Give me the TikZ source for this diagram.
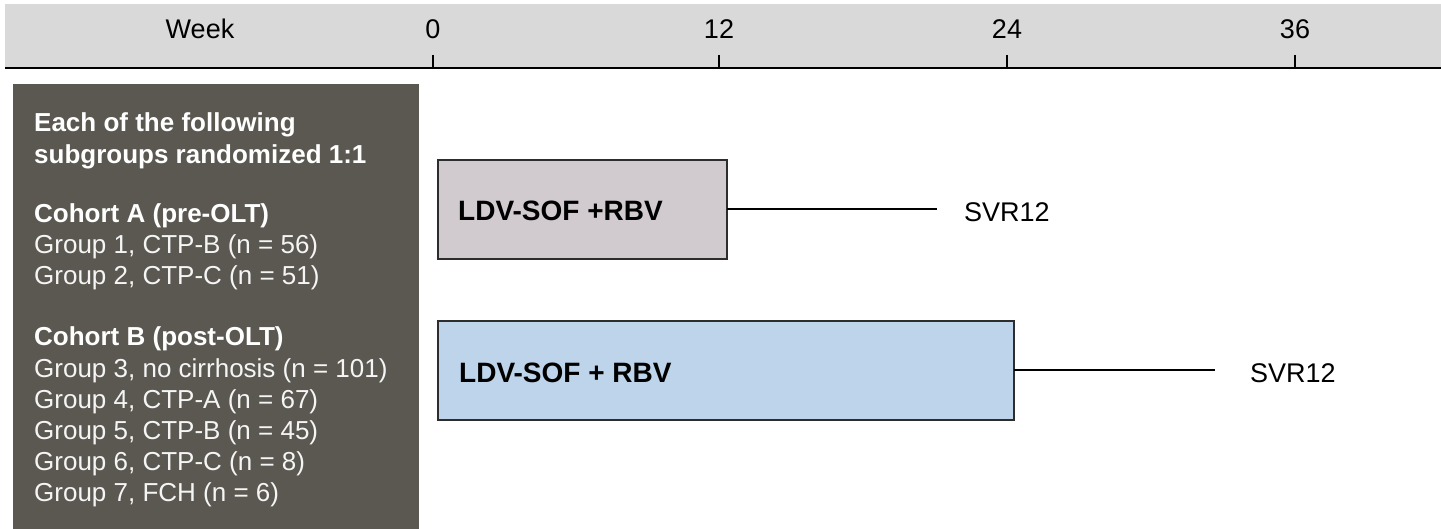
\documentclass[tikz,border=0pt]{standalone}
\usepackage{fontspec}
\setmainfont{Liberation Sans}
\definecolor{barg}{RGB}{217,217,217}
\definecolor{panelg}{RGB}{90,88,80}
\definecolor{boxa}{RGB}{209,203,207}
\definecolor{boxb}{RGB}{189,212,234}
\definecolor{edgec}{RGB}{45,45,45}
\definecolor{ptext}{RGB}{245,245,245}
\begin{document}
\begin{tikzpicture}[x=1pt,y=-1pt,
  axislbl/.style={anchor=base,inner sep=0pt,font=\fontsize{27}{30}\selectfont},
  ptitle/.style={anchor=base west,inner sep=0pt,text=white,font=\fontsize{26}{31}\selectfont\bfseries},
  pline/.style={anchor=base west,inner sep=0pt,text=ptext,font=\fontsize{26}{31}\selectfont},
  armbox/.style={draw=edgec,line width=1.4pt},
  armlbl/.style={anchor=base west,inner sep=0pt,font=\fontsize{28}{32}\selectfont\bfseries},
  svr/.style={anchor=base west,inner sep=0pt,font=\fontsize{27}{30}\selectfont},
  conn/.style={line width=2pt,black},
  tick/.style={line width=1.6pt,black}]
\useasboundingbox (0,0) rectangle (1441,529);
% top bar
\fill[barg] (5,4) rectangle (1441,67);
\draw[line width=2.2pt] (5,68) -- (1441,68);
\node[axislbl] (wk) at (200,39) {Week};
\foreach \x/\l/\n in {433/0/w0,719/12/w12,1007/24/w24,1295/36/w36}{
  \draw[tick] (\x,55) -- (\x,68);
  \node[axislbl] (\n) at (\x,39) {\l};
}
% left panel
\fill[panelg] (13,84) rectangle (419,529);
\node[ptitle] (t1) at (34,132) {Each of the following};
\node[ptitle] (t2) at (34,164) {subgroups randomized 1:1};
\node[ptitle] (ca) at (34,223) {Cohort A (pre-OLT)};
\node[pline] (g1) at (34,254) {Group 1, CTP-B (n = 56)};
\node[pline] (g2) at (34,285) {Group 2, CTP-C (n = 51)};
\node[ptitle] (cb) at (34,346) {Cohort B (post-OLT)};
\node[pline] (g3) at (34,377.5) {Group 3, no cirrhosis (n = 101)};
\node[pline] (g4) at (34,408.5) {Group 4, CTP-A (n = 67)};
\node[pline] (g5) at (34,439.5) {Group 5, CTP-B (n = 45)};
\node[pline] (g6) at (34,470.5) {Group 6, CTP-C (n = 8)};
\node[pline] (g7) at (34,501.5) {Group 7, FCH (n = 6)};
% arm 1
\path[armbox,fill=boxa] (438,160) rectangle (727,259);
\coordinate (b1e) at (727,209.5);
\node[armlbl] (l1) at (458,221) {LDV-SOF +RBV};
\coordinate (e1) at (937,209.5);
\draw[conn] (b1e) -- (e1);
\node[svr] (s1) at (964,222) {SVR12};
% arm 2
\path[armbox,fill=boxb] (438,321) rectangle (1014,420);
\coordinate (b2e) at (1014,370.5);
\node[armlbl] (l2) at (459,382) {LDV-SOF + RBV};
\coordinate (e2) at (1215,370.5);
\draw[conn] (b2e) -- (e2);
\node[svr] (s2) at (1250,382) {SVR12};
\end{tikzpicture}
\end{document}
